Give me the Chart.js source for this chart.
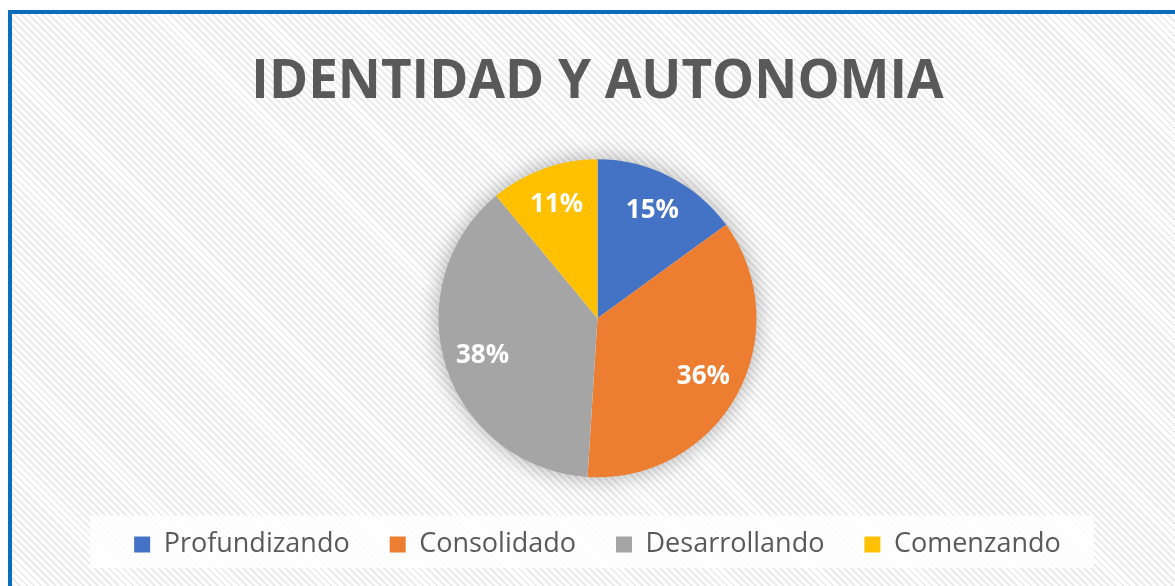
<!DOCTYPE html>
<html lang="es">
<head>
  <meta charset="UTF-8">
  <title>Identidad y Autonomia</title>
  <script src="https://cdn.jsdelivr.net/npm/chart.js"></script>
  <style>
    html, body {
      margin: 0;
      padding: 0;
      width: 1175px;
      height: 586px;
      overflow: hidden;
      background: #ffffff;
    }
    #frame {
      position: absolute;
      left: 8px;
      top: 10px;
      width: 1240px;
      height: 640px;
      border: 4px solid #0a6ebd;
      background: repeating-linear-gradient(45deg, #ffffff 0px, #ffffff 3px, #ebebeb 3px, #ebebeb 5px);
    }
    #wrap {
      position: absolute;
      left: 12px;
      top: 14px;
      width: 1171px;
      height: 554px;
    }
  </style>
</head>
<body>
  <div id="frame"></div>
  <div id="wrap"><canvas id="pieChart"></canvas></div>

  <script>
    const categories = ['Profundizando', 'Consolidado', 'Desarrollando', 'Comenzando'];
    const values = [15, 36, 38, 11];
    const sliceColors = ['#4472c4', '#ed7d31', '#a5a5a5', '#ffc000'];
    const chartTitle = 'IDENTIDAD Y AUTONOMIA';

    const FONT = "'Open Sans', sans-serif";

    // soft glow behind the pie + white box behind the legend
    const decorations = {
      id: 'decorations',
      beforeDraw(chart) {
        const ctx = chart.ctx;
        const boxes = chart.legend.legendHitBoxes;
        if (boxes && boxes.length) {
          const first = boxes[0], last = boxes[boxes.length - 1];
          const left = first.left - 44;
          const right = last.left + last.width + 33;
          const cy = first.top + first.height / 2;
          ctx.save();
          ctx.fillStyle = 'rgba(255,255,255,0.85)';
          ctx.fillRect(left, cy - 29, right - left, 57);
          ctx.restore();
        }
      },
      beforeDatasetsDraw(chart) {
        const arc = chart.getDatasetMeta(0).data[0];
        if (!arc) return;
        const ctx = chart.ctx;
        ctx.save();
        ctx.shadowColor = 'rgba(0,0,0,0.35)';
        ctx.shadowBlur = 24;
        ctx.fillStyle = '#ffffff';
        ctx.beginPath();
        ctx.arc(arc.x, arc.y, arc.outerRadius - 1, 0, Math.PI * 2);
        ctx.fill();
        ctx.restore();
      },
      afterDatasetsDraw(chart) {
        const ctx = chart.ctx;
        const total = values.reduce((a, b) => a + b, 0);
        ctx.save();
        ctx.fillStyle = '#ffffff';
        ctx.font = "bold 26px " + FONT;
        ctx.textAlign = 'center';
        ctx.textBaseline = 'middle';
        chart.getDatasetMeta(0).data.forEach((arc, i) => {
          const mid = (arc.startAngle + arc.endAngle) / 2;
          const r = arc.outerRadius * 0.76;
          const pct = Math.round(values[i] / total * 100) + '%';
          ctx.fillText(pct, arc.x + Math.cos(mid) * r, arc.y + Math.sin(mid) * r);
        });
        ctx.restore();
      }
    };

    new Chart(document.getElementById('pieChart'), {
      type: 'pie',
      data: {
        labels: categories,
        datasets: [{
          data: values,
          backgroundColor: sliceColors,
          borderWidth: 0,
          radius: 159
        }]
      },
      options: {
        responsive: true,
        maintainAspectRatio: false,
        animation: false,
        layout: { padding: { top: 0, bottom: 0 } },
        plugins: {
          title: {
            display: true,
            text: chartTitle,
            color: '#595959',
            font: { family: FONT, size: 53, weight: 'bold' },
            padding: { top: 37, bottom: 31 }
          },
          legend: {
            position: 'bottom',
            labels: {
              color: '#595959',
              font: { family: FONT, size: 27 },
              boxWidth: 16,
              boxHeight: 16,
              padding: 40
            }
          },
          tooltip: { enabled: false }
        }
      },
      plugins: [decorations]
    });
  </script>
</body>
</html>
